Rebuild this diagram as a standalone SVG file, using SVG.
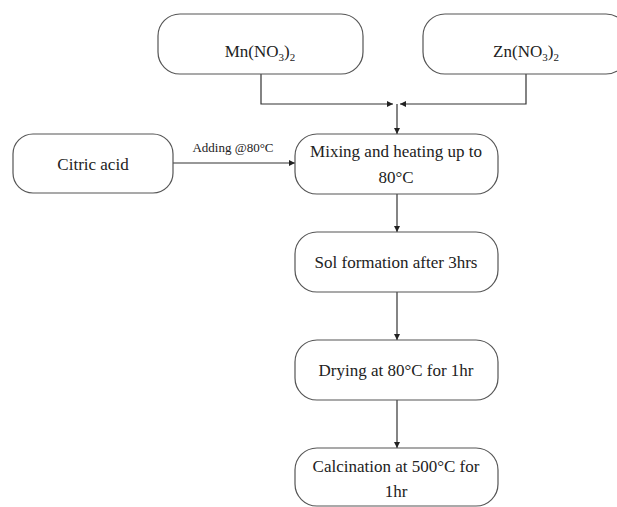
<svg xmlns="http://www.w3.org/2000/svg" width="617" height="507" viewBox="0 0 617 507">
<defs>
<style>
.box{fill:#fff;stroke:#555;stroke-width:1.2}
.t{font-family:"Liberation Serif","Times New Roman",serif;font-size:17px;fill:#222;text-anchor:middle}
.lbl{font-family:"Liberation Serif","Times New Roman",serif;font-size:13px;fill:#222;text-anchor:middle}
.c{fill:none;stroke:#333;stroke-width:1.2}
</style>
<marker id="ah" viewBox="0 0 10 10" refX="10" refY="5" markerWidth="6" markerHeight="6" orient="auto" markerUnits="userSpaceOnUse">
<path d="M0,0 L10,5 L0,10 z" fill="#222"/>
</marker>
</defs>
<rect width="617" height="507" fill="#fff"/>
<g id="connectors">
<path class="c" d="M261,74 V104 H393" marker-end="url(#ah)"/>
<path class="c" d="M526,74 V104 H400" marker-end="url(#ah)"/>
<path class="c" d="M397,104 V134" marker-end="url(#ah)"/>
<path class="c" d="M173,163 H295" marker-end="url(#ah)"/>
<text class="lbl" x="233" y="152">Adding @80°C</text>
<path class="c" d="M397,194 V232" marker-end="url(#ah)"/>
<path class="c" d="M397,292 V340" marker-end="url(#ah)"/>
<path class="c" d="M397,400 V448" marker-end="url(#ah)"/>
</g>
<g id="mn">
<rect class="box" x="158" y="14" width="205" height="60" rx="22"/>
<text class="t" x="260" y="57">Mn(NO<tspan font-size="11" dy="4">3</tspan><tspan dy="-4">)</tspan><tspan font-size="11" dy="4">2</tspan></text>
</g>
<g id="zn">
<rect class="box" x="423" y="14" width="205" height="60" rx="22"/>
<text class="t" x="526" y="57">Zn(NO<tspan font-size="11" dy="4">3</tspan><tspan dy="-4">)</tspan><tspan font-size="11" dy="4">2</tspan></text>
</g>
<g id="citric">
<rect class="box" x="13" y="134" width="160" height="59" rx="20"/>
<text class="t" x="93" y="170">Citric acid</text>
</g>
<g id="mixing">
<rect class="box" x="295" y="134" width="203" height="60" rx="22"/>
<text class="t" x="396" y="157">Mixing and heating up to</text>
<text class="t" x="396" y="183">80°C</text>
</g>
<g id="sol">
<rect class="box" x="295" y="232" width="203" height="60" rx="22"/>
<text class="t" x="396" y="268">Sol formation after 3hrs</text>
</g>
<g id="drying">
<rect class="box" x="295" y="340" width="203" height="60" rx="22"/>
<text class="t" x="396" y="376">Drying at 80°C for 1hr</text>
</g>
<g id="calcination">
<rect class="box" x="295" y="448" width="203" height="58" rx="22"/>
<text class="t" x="396" y="472">Calcination at 500°C for</text>
<text class="t" x="396" y="497">1hr</text>
</g>
</svg>
